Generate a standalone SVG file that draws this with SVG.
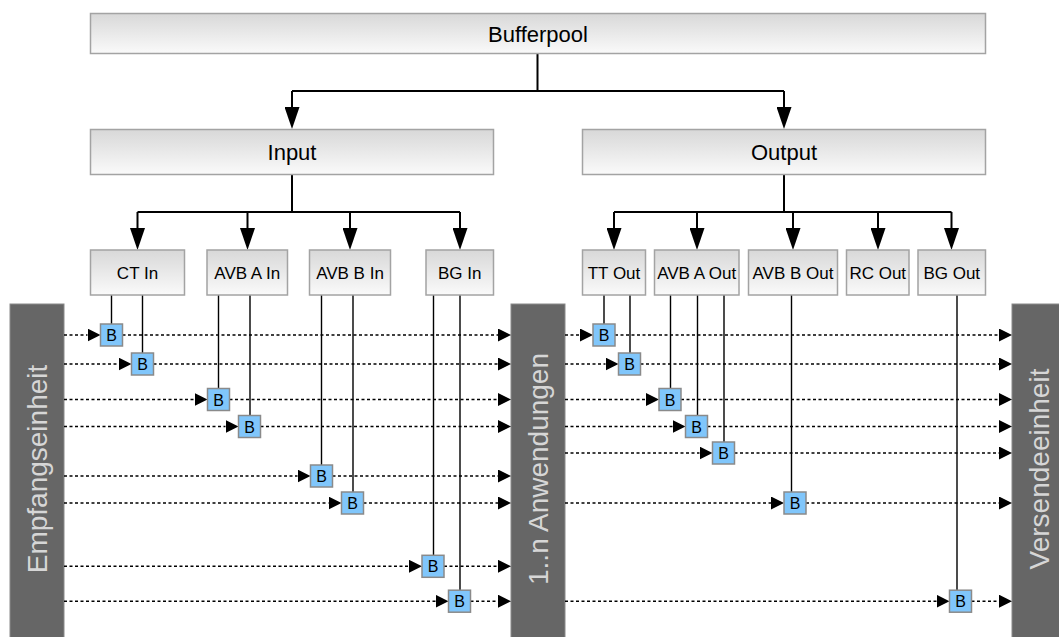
<svg xmlns="http://www.w3.org/2000/svg" width="1059" height="637" viewBox="0 0 1059 637">
<style>
text{font-family:"Liberation Sans",Arial,sans-serif;}
.box{fill:url(#g);stroke:#a3a3a3;stroke-width:1.5;}
.t1{font-size:22px;fill:#000;text-anchor:middle;}
.t2{font-size:17px;fill:#000;text-anchor:middle;}
.bar{fill:#666666;stroke:#8a8a8a;stroke-width:1;}
.bt{font-size:28px;fill:#d6d6d6;text-anchor:middle;}
.tree{fill:none;stroke:#000;stroke-width:2;}
.va{marker-end:url(#ah);}
.vl{fill:none;stroke:#000;stroke-width:1.4;}
.dl{fill:none;stroke:#000;stroke-width:1.5;stroke-dasharray:3 2.5;marker-end:url(#sh);}
.b rect{fill:#80c6fb;stroke:#8a8a8a;stroke-width:1.5;}
.b text{font-size:16px;fill:#000;text-anchor:middle;}
</style>
<defs>
<linearGradient id="g" x1="0" y1="0" x2="0" y2="1">
<stop offset="0" stop-color="#d8d8d8"/>
<stop offset="1" stop-color="#fafafa"/>
</linearGradient>
<marker id="ah" markerUnits="userSpaceOnUse" viewBox="0 0 22 15" markerWidth="22" markerHeight="15" refX="0" refY="7.5" orient="auto"><path d="M0,0 L22,7.5 L0,15 z" fill="#000"/></marker>
<marker id="sh" markerUnits="userSpaceOnUse" viewBox="0 0 13 13" markerWidth="13" markerHeight="13" refX="0" refY="6.5" orient="auto"><path d="M0,0 L13,6.5 L0,13 z" fill="#000"/></marker>
</defs>
<rect width="1059" height="637" fill="#fff"/>

<g id="empfangseinheit"><rect class="bar" x="10" y="304" width="54" height="340"/><text class="bt" transform="translate(46.5,469) rotate(-90)">Empfangseinheit</text></g>
<g id="anwendungen"><rect class="bar" x="511" y="304" width="54" height="340"/><text class="bt" transform="translate(547.5,469) rotate(-90)">1..n Anwendungen</text></g>
<g id="versendeeinheit"><rect class="bar" x="1012" y="304" width="54" height="340"/><text class="bt" transform="translate(1048.5,469) rotate(-90)">Versendeeinheit</text></g>

<g id="connectors">
<path class="tree" d="M537.5,53.5 V91 M292,91 H784 M292,174.5 V212 M137.5,212 H460 M784,174.5 V212 M614,212 H951.5"/>
<path class="tree va" d="M292,91 V107"/>
<path class="tree va" d="M784,91 V107"/>
<path class="tree va" d="M137.5,212 V228"/>
<path class="tree va" d="M247.5,212 V228"/>
<path class="tree va" d="M350,212 V228"/>
<path class="tree va" d="M460,212 V228"/>
<path class="tree va" d="M614,212 V228"/>
<path class="tree va" d="M697,212 V228"/>
<path class="tree va" d="M793,212 V228"/>
<path class="tree va" d="M878,212 V228"/>
<path class="tree va" d="M951.5,212 V228"/>
<path class="vl" d="M111.5,295 V324 M142.5,295 V353 M218.5,295 V388.5 M250,295 V415.5 M321.5,295 V465 M353,295 V492 M433.5,295 V555.3 M460,295 V590.2"/>
<path class="vl" d="M604,295 V324 M630,295 V353 M670.5,295 V388.5 M697.5,295 V415.5 M724,295 V442 M791.5,295 V492 M957,295 V590.2"/>
<path class="dl" d="M64,335 H87.5"/><path class="dl" d="M122.5,335 H498"/>
<path class="dl" d="M64,364 H118.5"/><path class="dl" d="M153.5,364 H498"/>
<path class="dl" d="M64,399.5 H194.5"/><path class="dl" d="M229.5,399.5 H498"/>
<path class="dl" d="M64,426.5 H225.5"/><path class="dl" d="M260.5,426.5 H498"/>
<path class="dl" d="M64,476 H297.5"/><path class="dl" d="M332.5,476 H498"/>
<path class="dl" d="M64,503 H328.5"/><path class="dl" d="M363.5,503 H498"/>
<path class="dl" d="M64,566.3 H409"/><path class="dl" d="M444,566.3 H498"/>
<path class="dl" d="M64,601.2 H435.5"/><path class="dl" d="M470.5,601.2 H498"/>
<path class="dl" d="M565,335 H580"/><path class="dl" d="M615,335 H999"/>
<path class="dl" d="M565,364 H605.5"/><path class="dl" d="M640.5,364 H999"/>
<path class="dl" d="M565,399.5 H646"/><path class="dl" d="M681,399.5 H999"/>
<path class="dl" d="M565,426.5 H672.5"/><path class="dl" d="M707.5,426.5 H999"/>
<path class="dl" d="M565,453 H699.5"/><path class="dl" d="M734.5,453 H999"/>
<path class="dl" d="M565,503 H771"/><path class="dl" d="M806,503 H999"/>
<path class="dl" d="M565,601.2 H936.5"/><path class="dl" d="M971.5,601.2 H999"/>
</g>

<g id="bufferpool"><rect class="box" x="90.5" y="13.5" width="895" height="40"/><text class="t1" x="538" y="41.5">Bufferpool</text></g>
<g id="input"><rect class="box" x="90.5" y="129.5" width="403" height="45"/><text class="t1" x="292" y="160">Input</text></g>
<g id="output"><rect class="box" x="582.5" y="129.5" width="403" height="45"/><text class="t1" x="784" y="160">Output</text></g>
<g id="ct-in"><rect class="box" x="90.5" y="250" width="94" height="45"/><text class="t2" x="137.5" y="279">CT In</text></g>
<g id="avb-a-in"><rect class="box" x="207" y="250" width="80.5" height="45"/><text class="t2" x="247.25" y="279">AVB A In</text></g>
<g id="avb-b-in"><rect class="box" x="309.5" y="250" width="81" height="45"/><text class="t2" x="350" y="279">AVB B In</text></g>
<g id="bg-in"><rect class="box" x="426" y="250" width="67.5" height="45"/><text class="t2" x="459.75" y="279">BG In</text></g>
<g id="tt-out"><rect class="box" x="582.5" y="250" width="63" height="45"/><text class="t2" x="614" y="279">TT Out</text></g>
<g id="avb-a-out"><rect class="box" x="654.5" y="250" width="84.5" height="45"/><text class="t2" x="696.75" y="279">AVB A Out</text></g>
<g id="avb-b-out"><rect class="box" x="748.5" y="250" width="89" height="45"/><text class="t2" x="793" y="279">AVB B Out</text></g>
<g id="rc-out"><rect class="box" x="846.5" y="250" width="62.5" height="45"/><text class="t2" x="877.75" y="279">RC Out</text></g>
<g id="bg-out"><rect class="box" x="918" y="250" width="67.5" height="45"/><text class="t2" x="951.75" y="279">BG Out</text></g>

<g id="b-l1" class="b"><rect x="100.5" y="324" width="22" height="22"/><text x="111.5" y="341">B</text></g>
<g id="b-l2" class="b"><rect x="131.5" y="353" width="22" height="22"/><text x="142.5" y="370">B</text></g>
<g id="b-l3" class="b"><rect x="207.5" y="388.5" width="22" height="22"/><text x="218.5" y="405.5">B</text></g>
<g id="b-l4" class="b"><rect x="238.5" y="415.5" width="22" height="22"/><text x="249.5" y="432.5">B</text></g>
<g id="b-l5" class="b"><rect x="310.5" y="465" width="22" height="22"/><text x="321.5" y="482">B</text></g>
<g id="b-l6" class="b"><rect x="341.5" y="492" width="22" height="22"/><text x="352.5" y="509">B</text></g>
<g id="b-l7" class="b"><rect x="422" y="555.3" width="22" height="22"/><text x="433" y="572.3">B</text></g>
<g id="b-l8" class="b"><rect x="448.5" y="590.2" width="22" height="22"/><text x="459.5" y="607.2">B</text></g>
<g id="b-r1" class="b"><rect x="593" y="324" width="22" height="22"/><text x="604" y="341">B</text></g>
<g id="b-r2" class="b"><rect x="618.5" y="353" width="22" height="22"/><text x="629.5" y="370">B</text></g>
<g id="b-r3" class="b"><rect x="659" y="388.5" width="22" height="22"/><text x="670" y="405.5">B</text></g>
<g id="b-r4" class="b"><rect x="685.5" y="415.5" width="22" height="22"/><text x="696.5" y="432.5">B</text></g>
<g id="b-r5" class="b"><rect x="712.5" y="442" width="22" height="22"/><text x="723.5" y="459">B</text></g>
<g id="b-r6" class="b"><rect x="784" y="492" width="22" height="22"/><text x="795" y="509">B</text></g>
<g id="b-r8" class="b"><rect x="949.5" y="590.2" width="22" height="22"/><text x="960.5" y="607.2">B</text></g>
</svg>
